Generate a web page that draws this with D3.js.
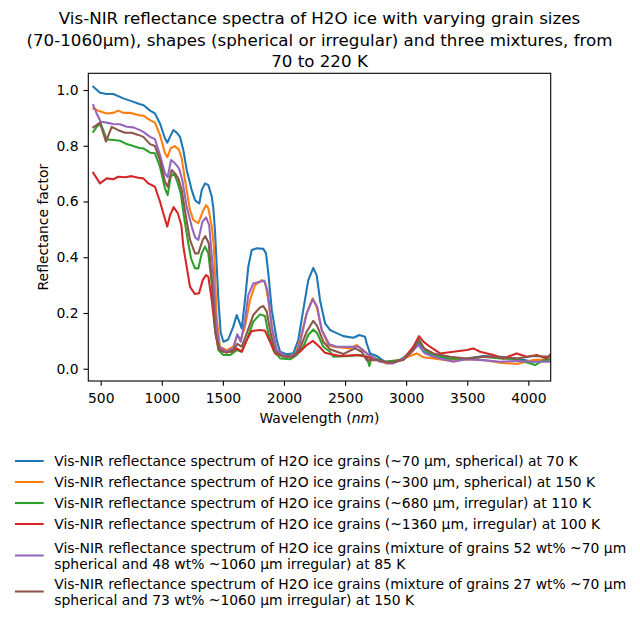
<!DOCTYPE html>
<html><head><meta charset="utf-8">
<script src="https://cdn.jsdelivr.net/npm/d3@7"></script>
<style>body{margin:0;background:#fff}text{font-family:"DejaVu Sans",sans-serif;fill:#000}</style>
</head><body><svg id="c" width="640" height="622"></svg>
<script>
const titleLines = ["Vis-NIR reflectance spectra of H2O ice with varying grain sizes","(70-1060µm), shapes (spherical or irregular) and three mixtures, from","70 to 220 K"];
const xTicks = [500,1000,1500,2000,2500,3000,3500,4000];
const yTicks = [0.0,0.2,0.4,0.6,0.8,1.0];
const colors = ["#1f77b4","#ff7f0e","#2ca02c","#d62728","#9467bd","#8c564b"];
const labels = [
 ["Vis-NIR reflectance spectrum of H2O ice grains (~70 µm, spherical) at 70 K"],
 ["Vis-NIR reflectance spectrum of H2O ice grains (~300 µm, spherical) at 150 K"],
 ["Vis-NIR reflectance spectrum of H2O ice grains (~680 µm, irregular) at 110 K"],
 ["Vis-NIR reflectance spectrum of H2O ice grains (~1360 µm, irregular) at 100 K"],
 ["Vis-NIR reflectance spectrum of H2O ice grains (mixture of grains 52 wt% ~70 µm","spherical and 48 wt% ~1060 µm irregular) at 85 K"],
 ["Vis-NIR reflectance spectrum of H2O ice grains (mixture of grains 27 wt% ~70 µm","spherical and 73 wt% ~1060 µm irregular) at 150 K"]
];
const s70sph = [[439,1.012],[494,0.990],[549,0.986],[603,0.986],[685,0.970],[740,0.962],[822,0.949],[849,0.946],[904,0.926],[944,0.916],[985,0.880],[1026,0.827],[1045,0.811],[1067,0.832],[1094,0.856],[1122,0.847],[1149,0.832],[1176,0.785],[1204,0.713],[1245,0.641],[1272,0.605],[1286,0.599],[1307,0.593],[1327,0.641],[1354,0.665],[1381,0.659],[1409,0.617],[1422,0.575],[1436,0.49],[1463,0.25],[1482,0.13],[1504,0.097],[1544,0.105],[1585,0.151],[1613,0.193],[1634,0.169],[1654,0.145],[1681,0.246],[1708,0.366],[1736,0.426],[1777,0.432],[1831,0.430],[1853,0.414],[1872,0.342],[1900,0.211],[1941,0.103],[1968,0.061],[2022,0.052],[2077,0.055],[2117,0.103],[2158,0.211],[2199,0.318],[2240,0.362],[2268,0.335],[2295,0.246],[2336,0.163],[2377,0.139],[2404,0.133],[2486,0.117],[2568,0.111],[2617,0.121],[2663,0.115],[2677,0.091],[2704,0.055],[2759,0.046],[2841,0.019],[2950,0.031],[3032,0.055],[3100,0.091],[3141,0.061],[3223,0.043],[3359,0.034],[3496,0.037],[3632,0.046],[3768,0.043],[3905,0.037],[4041,0.025],[4200,0.038]];
const s300sph = [[439,0.934],[480,0.926],[549,0.916],[603,0.918],[644,0.926],[685,0.918],[740,0.918],[808,0.910],[849,0.908],[904,0.892],[944,0.883],[985,0.839],[1026,0.773],[1045,0.759],[1073,0.791],[1108,0.799],[1141,0.785],[1163,0.755],[1190,0.677],[1231,0.569],[1258,0.534],[1299,0.522],[1340,0.569],[1362,0.587],[1381,0.576],[1409,0.510],[1427,0.438],[1449,0.187],[1476,0.079],[1531,0.067],[1585,0.079],[1618,0.121],[1646,0.103],[1681,0.151],[1722,0.246],[1763,0.300],[1818,0.318],[1845,0.312],[1872,0.246],[1908,0.127],[1941,0.061],[2022,0.043],[2090,0.049],[2131,0.103],[2186,0.199],[2235,0.253],[2268,0.222],[2309,0.139],[2363,0.085],[2404,0.079],[2541,0.073],[2595,0.085],[2650,0.067],[2704,0.043],[2841,0.019],[2977,0.037],[3086,0.055],[3141,0.041],[3223,0.037],[3359,0.029],[3496,0.034],[3632,0.031],[3768,0.022],[3905,0.017],[4041,0.031],[4200,0.034]];
const s680irr = [[439,0.850],[467,0.868],[500,0.880],[549,0.823],[603,0.821],[658,0.818],[713,0.806],[767,0.799],[822,0.791],[849,0.791],[904,0.775],[944,0.773],[985,0.725],[1026,0.647],[1048,0.623],[1073,0.689],[1100,0.701],[1127,0.671],[1155,0.629],[1182,0.545],[1217,0.450],[1240,0.395],[1272,0.360],[1299,0.360],[1327,0.414],[1354,0.438],[1381,0.414],[1409,0.306],[1436,0.151],[1463,0.067],[1504,0.049],[1558,0.049],[1613,0.067],[1654,0.061],[1695,0.103],[1749,0.169],[1804,0.195],[1845,0.189],[1872,0.127],[1913,0.067],[1968,0.037],[2050,0.034],[2104,0.049],[2158,0.079],[2199,0.121],[2240,0.141],[2272,0.127],[2322,0.079],[2377,0.061],[2404,0.043],[2541,0.046],[2622,0.049],[2677,0.043],[2699,0.010],[2718,0.043],[2813,0.025],[2950,0.031],[3045,0.061],[3100,0.109],[3154,0.067],[3223,0.049],[3359,0.037],[3496,0.034],[3632,0.043],[3768,0.037],[3905,0.034],[4055,0.013],[4120,0.030],[4200,0.034]];
const s1360irr = [[439,0.703],[494,0.665],[549,0.683],[603,0.680],[644,0.689],[699,0.687],[754,0.691],[808,0.685],[849,0.683],[890,0.665],[944,0.653],[985,0.600],[1012,0.558],[1045,0.510],[1067,0.550],[1097,0.580],[1131,0.558],[1160,0.515],[1176,0.440],[1190,0.402],[1231,0.294],[1272,0.268],[1305,0.271],[1335,0.318],[1362,0.336],[1381,0.330],[1409,0.246],[1436,0.139],[1463,0.073],[1504,0.061],[1572,0.061],[1613,0.073],[1654,0.061],[1695,0.103],[1736,0.135],[1804,0.139],[1845,0.136],[1886,0.097],[1927,0.055],[1995,0.046],[2077,0.046],[2131,0.061],[2186,0.085],[2237,0.100],[2288,0.080],[2336,0.057],[2377,0.053],[2459,0.046],[2595,0.049],[2677,0.043],[2759,0.031],[2868,0.019],[2977,0.034],[3059,0.079],[3105,0.117],[3141,0.097],[3195,0.079],[3277,0.055],[3386,0.061],[3496,0.067],[3550,0.073],[3604,0.061],[3714,0.049],[3796,0.037],[3905,0.055],[3987,0.043],[4069,0.049],[4151,0.037],[4200,0.061]];
const sMix52 = [[439,0.946],[467,0.916],[500,0.886],[549,0.883],[603,0.878],[658,0.877],[713,0.868],[767,0.866],[822,0.856],[849,0.850],[904,0.832],[944,0.824],[985,0.767],[1026,0.701],[1048,0.687],[1076,0.749],[1108,0.737],[1141,0.719],[1168,0.677],[1204,0.581],[1245,0.510],[1272,0.472],[1299,0.462],[1332,0.527],[1362,0.543],[1388,0.515],[1417,0.366],[1444,0.163],[1471,0.079],[1531,0.061],[1585,0.073],[1618,0.124],[1646,0.097],[1681,0.175],[1708,0.264],[1749,0.306],[1804,0.312],[1837,0.316],[1864,0.282],[1900,0.151],[1941,0.067],[2022,0.043],[2090,0.046],[2131,0.091],[2186,0.199],[2235,0.249],[2272,0.222],[2309,0.139],[2370,0.088],[2432,0.079],[2541,0.079],[2609,0.079],[2677,0.055],[2786,0.025],[2895,0.019],[3004,0.043],[3100,0.085],[3154,0.055],[3277,0.037],[3386,0.025],[3496,0.034],[3632,0.031],[3768,0.025],[3905,0.028],[4041,0.025],[4200,0.025]];
const sMix27 = [[439,0.866],[494,0.883],[543,0.815],[590,0.868],[644,0.856],[699,0.847],[754,0.847],[808,0.839],[849,0.832],[904,0.806],[944,0.799],[985,0.749],[1026,0.671],[1048,0.653],[1081,0.713],[1108,0.701],[1135,0.683],[1163,0.641],[1198,0.545],[1231,0.462],[1272,0.414],[1299,0.414],[1335,0.462],[1356,0.476],[1384,0.450],[1411,0.306],[1438,0.127],[1471,0.067],[1531,0.057],[1585,0.067],[1618,0.089],[1654,0.079],[1695,0.127],[1749,0.193],[1804,0.220],[1831,0.225],[1859,0.205],[1891,0.127],[1927,0.061],[1995,0.043],[2077,0.043],[2131,0.073],[2186,0.133],[2240,0.172],[2272,0.153],[2322,0.097],[2377,0.070],[2486,0.053],[2581,0.073],[2636,0.061],[2677,0.031],[2759,0.031],[2868,0.022],[2977,0.031],[3059,0.067],[3100,0.103],[3148,0.073],[3223,0.055],[3359,0.043],[3496,0.037],[3632,0.043],[3768,0.041],[3905,0.037],[4041,0.046],[4200,0.043]];
const series = [s70sph, s300sph, s680irr, s1360irr, sMix52, sMix27];

const svg = d3.select("#c");
const L=88.3, R=550.7, T=73.3, B=381;
const x = d3.scaleLinear().domain([398.5,4183]).range([L,R]);
const y = d3.scaleLinear().domain([-0.044,1.06]).range([B,T]);
const fs = 13.9;
const lw = 2.08;

svg.append("defs").append("clipPath").attr("id","clip").append("rect").attr("x",L).attr("y",T).attr("width",R-L).attr("height",B-T);

const line = d3.line().x(d=>x(d[0])).y(d=>y(d[1]));
const g = svg.append("g").attr("clip-path","url(#clip)");
series.forEach((s,i)=>{
  g.append("path").datum(s).attr("d",line).attr("fill","none").attr("stroke",colors[i]).attr("stroke-width",lw).attr("stroke-linejoin","round").attr("stroke-linecap","square");
});

const xa = svg.append("g").attr("transform",`translate(0,${B})`).call(d3.axisBottom(x).tickValues(xTicks).tickFormat(d3.format("d")).tickSize(4.86).tickPadding(4.86));
const ya = svg.append("g").attr("transform",`translate(${L},0)`).call(d3.axisLeft(y).tickValues(yTicks).tickFormat(d3.format(".1f")).tickSize(4.86).tickPadding(4.86));
[xa,ya].forEach(a=>{a.select(".domain").remove();a.selectAll("line").attr("stroke","#000").attr("stroke-width",1.1);a.selectAll("text").attr("font-size",fs).attr("font-family","DejaVu Sans").attr("fill","#000");});
xa.selectAll("text").attr("dy","0.86em");
svg.append("rect").attr("x",L).attr("y",T).attr("width",R-L).attr("height",B-T).attr("fill","none").attr("stroke","#000").attr("stroke-width",1.1);

const xl = svg.append("text").attr("x",(L+R)/2).attr("y",422.5).attr("text-anchor","middle").attr("font-size",fs);
xl.append("tspan").text("Wavelength (");
xl.append("tspan").attr("font-style","italic").text("nm");
xl.append("tspan").text(")");
svg.append("text").attr("transform",`translate(47.5,${(T+B)/2}) rotate(-90)`).attr("text-anchor","middle").attr("font-size",fs).text("Reflectance factor");

titleLines.forEach((t,i)=>{
  svg.append("text").attr("x",(L+R)/2).attr("y",24+i*21.5).attr("text-anchor","middle").attr("font-size",16.7).text(t);
});

const rowY = [[461],[482],[503],[524],[547.5,563.5],[583.5,599.5]];
labels.forEach((lab,i)=>{
  const ys = rowY[i];
  const hy = d3.mean(ys);
  svg.append("line").attr("x1",15).attr("x2",43.7).attr("y1",hy).attr("y2",hy).attr("stroke",colors[i]).attr("stroke-width",lw);
  lab.forEach((t,j)=>{
    svg.append("text").attr("x",54.3).attr("y",ys[j]+5).attr("font-size",fs).text(t);
  });
});
</script></body></html>
